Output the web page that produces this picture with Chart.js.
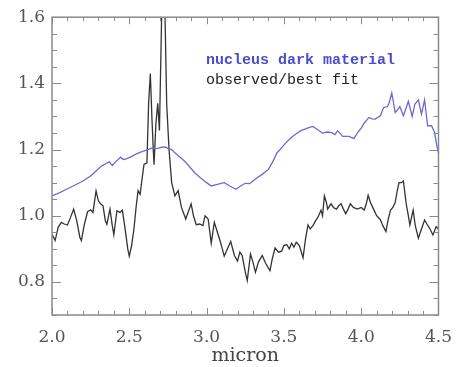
<!DOCTYPE html>
<html>
<head>
<meta charset="utf-8">
<script src="https://cdn.jsdelivr.net/npm/chart.js@4.4.0/dist/chart.umd.min.js"></script>
<style>
  html, body { margin: 0; padding: 0; background: #fff; }
  #wrap { width: 464px; height: 367px; }
</style>
</head>
<body>
<div id="wrap"><canvas id="c"></canvas></div>
<script>
// series names (drawn as the in-plot legend)
const seriesNames = ['nucleus dark material', 'observed/best fit'];

// nucleus dark material (blue)
const blueMicron = [2.00, 2.05, 2.094, 2.15, 2.20, 2.25, 2.285, 2.32, 2.35, 2.37, 2.39, 2.415, 2.444, 2.46, 2.48,
  2.52, 2.55, 2.582, 2.61, 2.646, 2.68, 2.71, 2.73, 2.755, 2.774, 2.795, 2.816, 2.84, 2.86, 2.89, 2.923, 2.96,
  3.00, 3.03, 3.07, 3.114, 3.15, 3.19, 3.22, 3.25, 3.28, 3.30, 3.327, 3.36, 3.40, 3.43, 3.454, 3.49, 3.518,
  3.55, 3.58, 3.61, 3.645, 3.67, 3.688, 3.71, 3.74, 3.75, 3.78, 3.81, 3.83, 3.848, 3.865, 3.88, 3.92, 3.953,
  3.975, 4.00, 4.017, 4.05, 4.07, 4.09, 4.124, 4.145, 4.17, 4.18, 4.198, 4.22, 4.235, 4.25, 4.273, 4.29,
  4.305, 4.33, 4.347, 4.37, 4.39, 4.41, 4.43, 4.455, 4.474, 4.49, 4.50];
const blueRatio = [1.06, 1.07, 1.08, 1.093, 1.105, 1.12, 1.135, 1.15, 1.158, 1.163, 1.152, 1.165, 1.177, 1.17, 1.172,
  1.18, 1.188, 1.194, 1.198, 1.204, 1.203, 1.207, 1.208, 1.203, 1.200, 1.19, 1.182, 1.172, 1.164, 1.148, 1.13, 1.115,
  1.10, 1.09, 1.095, 1.10, 1.09, 1.08, 1.09, 1.098, 1.097, 1.105, 1.115, 1.125, 1.14, 1.165, 1.189, 1.208, 1.223,
  1.237, 1.248, 1.257, 1.263, 1.268, 1.27, 1.263, 1.253, 1.25, 1.253, 1.251, 1.245, 1.257, 1.248, 1.24, 1.24, 1.233,
  1.25, 1.265, 1.278, 1.297, 1.293, 1.292, 1.302, 1.327, 1.33, 1.34, 1.371, 1.312, 1.32, 1.33, 1.302, 1.325,
  1.346, 1.30, 1.337, 1.35, 1.307, 1.35, 1.272, 1.272, 1.253, 1.21, 1.19];

// observed/best fit (black)
const blackMicron = [2.00, 2.02, 2.04, 2.06, 2.08, 2.10, 2.12, 2.14, 2.16, 2.18, 2.19, 2.21, 2.23, 2.25, 2.265,
  2.285, 2.30, 2.315, 2.33, 2.345, 2.355, 2.375, 2.39, 2.40, 2.42, 2.44, 2.455, 2.47, 2.49, 2.50, 2.515, 2.53,
  2.545, 2.557, 2.57, 2.585, 2.595, 2.614, 2.625, 2.636, 2.646, 2.655, 2.66, 2.672, 2.684, 2.695, 2.705, 2.712,
  2.728, 2.742, 2.757, 2.774, 2.795, 2.816, 2.837, 2.865, 2.88, 2.90, 2.915, 2.933, 2.955, 2.976, 2.99, 3.01,
  3.03, 3.05, 3.07, 3.09, 3.114, 3.135, 3.156, 3.18, 3.20, 3.215, 3.23, 3.25, 3.263, 3.284, 3.30, 3.316, 3.335,
  3.36, 3.38, 3.41, 3.425, 3.443, 3.465, 3.486, 3.50, 3.518, 3.535, 3.55, 3.565, 3.58, 3.60, 3.624, 3.64, 3.656,
  3.67, 3.688, 3.705, 3.72, 3.74, 3.75, 3.762, 3.775, 3.783, 3.805, 3.82, 3.84, 3.855, 3.87, 3.885, 3.90, 3.915,
  3.93, 3.95, 3.975, 4.00, 4.02, 4.035, 4.045, 4.06, 4.08, 4.10, 4.124, 4.14, 4.16, 4.175, 4.19, 4.205, 4.22,
  4.235, 4.245, 4.26, 4.273, 4.285, 4.29, 4.305, 4.315, 4.336, 4.35, 4.37, 4.39, 4.41, 4.425, 4.443, 4.464,
  4.485, 4.50];
const blackRatio = [0.945, 0.925, 0.965, 0.98, 0.975, 0.972, 0.995, 1.02, 0.985, 0.935, 0.925, 0.975, 1.012, 1.018, 1.01,
  1.075, 1.045, 1.035, 1.03, 0.985, 0.974, 1.02, 0.97, 0.943, 1.015, 1.01, 1.017, 0.97, 0.90, 0.878, 0.91, 0.96,
  1.03, 1.076, 1.065, 1.12, 1.155, 1.16, 1.34, 1.43, 1.30, 1.20, 1.154, 1.278, 1.34, 1.258, 1.50, 1.68,
  1.68, 1.337, 1.20, 1.10, 1.06, 1.076, 1.026, 0.99, 1.01, 1.036, 1.0, 0.973, 0.975, 0.97, 1.0, 0.99,
  0.917, 0.98, 0.95, 0.92, 0.878, 0.90, 0.922, 0.88, 0.863, 0.89, 0.88, 0.83, 0.804, 0.884, 0.86, 0.829, 0.86,
  0.88, 0.858, 0.834, 0.87, 0.903, 0.89, 0.893, 0.91, 0.913, 0.90, 0.917, 0.905, 0.92, 0.91, 0.873, 0.93, 0.972,
  0.96, 0.97, 0.985, 0.995, 1.017, 1.00, 1.06, 1.04, 1.02, 1.036, 1.025, 1.02, 1.03, 1.036, 1.02, 1.006, 1.02,
  1.036, 1.025, 1.02, 1.025, 1.017, 1.04, 1.062, 1.04, 1.02, 1.00, 0.988, 0.97, 0.952, 0.99, 1.017, 1.025, 1.04,
  1.08, 1.10, 1.10, 1.105, 1.06, 1.04, 1.0, 0.972, 1.017, 0.97, 0.932, 0.96, 0.987, 0.975, 0.962, 0.942,
  0.967, 0.96];

// axis ticks
const xTickValues = [2.0, 2.5, 3.0, 3.5, 4.0, 4.5];
const xTickLabels = ['2.0', '2.5', '3.0', '3.5', '4.0', '4.5'];
const yTickValues = [0.8, 1.0, 1.2, 1.4, 1.6];
const yTickLabels = ['0.8', '1.0', '1.2', '1.4', '1.6'];

const blueColor = '#6a6ad2';
const blueText = '#4b4bcc';
const blackColor = '#333333';
const axisColor = '#8a8a8a';
const labelColor = '#555555';

const toPoints = (xs, ys) => xs.map((x, i) => ({ x: x, y: ys[i] }));

// frame on all four sides with inward ticks (IDL style)
const frameTicks = {
    id: 'frameTicks',
    afterDatasetsDraw(chart) {
        const { ctx, chartArea: a, scales: { x, y } } = chart;
        ctx.save();
        ctx.strokeStyle = axisColor;
        ctx.lineWidth = 1.5;
        ctx.strokeRect(a.left, a.top, a.right - a.left, a.bottom - a.top);
        ctx.lineWidth = 1;
        ctx.beginPath();
        for (let i = 0; i <= 25; i++) {
            const px = Math.round(x.getPixelForValue(x.min + i * 0.1)) + 0.5;
            const len = i % 5 === 0 ? 7 : 4;
            ctx.moveTo(px, a.bottom); ctx.lineTo(px, a.bottom - len);
            ctx.moveTo(px, a.top); ctx.lineTo(px, a.top + len);
        }
        for (let i = 0; i <= 18; i++) {
            const py = Math.round(y.getPixelForValue(y.min + i * 0.05)) + 0.5;
            const len = (i - 2) % 4 === 0 ? 9 : 5;
            ctx.moveTo(a.left, py); ctx.lineTo(a.left + len, py);
            ctx.moveTo(a.right, py); ctx.lineTo(a.right - len, py);
        }
        ctx.stroke();
        ctx.restore();
    }
};

// legend written inside the plot
const textLegend = {
    id: 'textLegend',
    afterDraw(chart) {
        const ctx = chart.ctx;
        ctx.save();
        ctx.textBaseline = 'middle';
        ctx.textAlign = 'left';
        ctx.font = 'bold 15px "Liberation Mono"';
        ctx.fillStyle = blueText;
        ctx.fillText(seriesNames[0], 206, 60);
        ctx.font = '15px "Liberation Mono"';
        ctx.fillStyle = '#222';
        ctx.fillText(seriesNames[1], 206, 80);
        ctx.restore();
    }
};

new Chart(document.getElementById('c'), {
    type: 'line',
    data: {
        datasets: [
            {
                label: seriesNames[0],
                data: toPoints(blueMicron, blueRatio),
                borderColor: blueColor,
                borderWidth: 1.3,
                pointRadius: 0,
                tension: 0,
            },
            {
                label: seriesNames[1],
                data: toPoints(blackMicron, blackRatio),
                borderColor: blackColor,
                borderWidth: 1.3,
                pointRadius: 0,
                tension: 0,
            },
        ],
    },
    plugins: [frameTicks, textLegend],
    options: {
        responsive: true,
        maintainAspectRatio: false,
        animation: false,
        layout: { padding: { top: 10, right: 20, left: 0, bottom: 0 } },
        plugins: {
            legend: { display: false },
            tooltip: { enabled: false },
        },
        scales: {
            x: {
                type: 'linear',
                min: 2.0,
                max: 4.5,
                afterBuildTicks: (s) => { s.ticks = xTickValues.map((v) => ({ value: v })); },
                afterFit: (s) => { s.height = 52; },
                ticks: {
                    callback: (v) => xTickLabels[xTickValues.indexOf(v)],
                    color: labelColor,
                    font: { family: '"DejaVu Serif"', size: 17 },
                    padding: 12,
                    maxRotation: 0,
                },
                grid: { display: false, drawTicks: false },
                border: { display: false },
                title: {
                    display: true,
                    text: 'micron',
                    color: '#444',
                    font: { family: '"DejaVu Serif"', size: 19 },
                    padding: { top: 0, bottom: 0 },
                },
            },
            y: {
                type: 'linear',
                min: 0.7,
                max: 1.6,
                afterBuildTicks: (s) => { s.ticks = yTickValues.map((v) => ({ value: v })); },
                afterFit: (s) => { s.width = 52; },
                ticks: {
                    callback: (v) => yTickLabels[yTickValues.indexOf(v)],
                    color: labelColor,
                    font: { family: '"DejaVu Serif"', size: 17 },
                    padding: 7,
                },
                grid: { display: false, drawTicks: false },
                border: { display: false },
            },
        },
    },
});
</script>
</body>
</html>
